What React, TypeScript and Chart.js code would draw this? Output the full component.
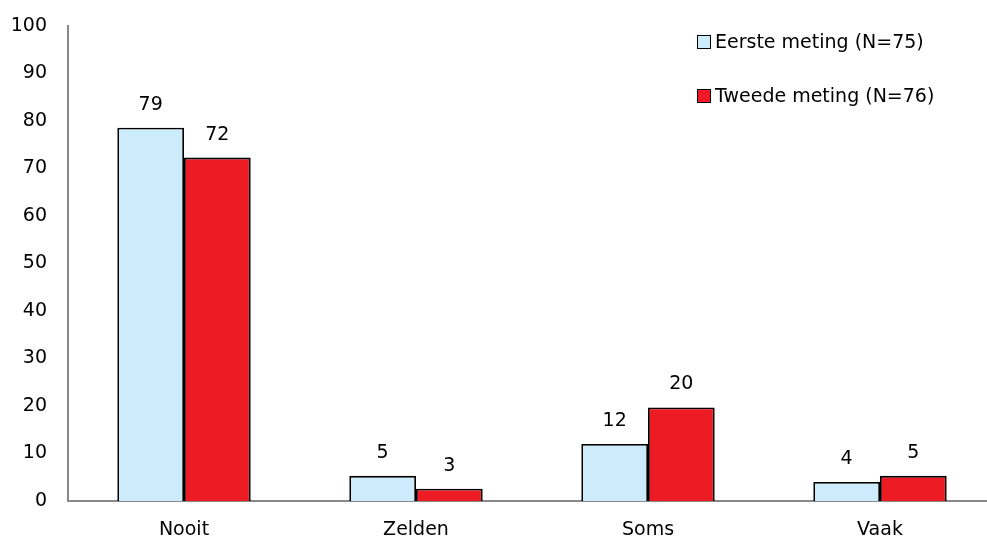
import React, { useEffect, useRef } from "react";
import { Chart, registerables } from "chart.js";

Chart.register(...registerables);

const categories = ["Nooit", "Zelden", "Soms", "Vaak"];
const seriesNames = ["Eerste meting (N=75)", "Tweede meting (N=76)"];
const eersteMeting = [78.6, 5.3, 12.0, 4.0];
const tweedeMeting = [72.3, 2.6, 19.7, 5.3];
const seriesColors = ["#CCEBFB", "#ED1C24"];
const yTicks = [0, 10, 20, 30, 40, 50, 60, 70, 80, 90, 100];

const FONT = "'DejaVu Sans', sans-serif";
const FS = 19;

const valueLabels = {
  id: "valueLabels",
  afterDatasetsDraw(chart: any) {
    const ctx = chart.ctx;
    ctx.save();
    ctx.font = `${FS}px ${FONT}`;
    ctx.fillStyle = "#000";
    ctx.textAlign = "center";
    ctx.textBaseline = "middle";
    chart.data.datasets.forEach((ds: any, i: number) => {
      const meta = chart.getDatasetMeta(i);
      meta.data.forEach((bar: any, j: number) => {
        ctx.fillText(String(Math.round(ds.data[j])), bar.x, bar.y - 23);
      });
    });
    ctx.restore();
  },
};

const customLegend = {
  id: "customLegend",
  afterDraw(chart: any) {
    const ctx = chart.ctx;
    ctx.save();
    ctx.font = `${FS}px ${FONT}`;
    ctx.textAlign = "left";
    ctx.textBaseline = "middle";
    chart.data.datasets.forEach((ds: any, i: number) => {
      const y = 42 + i * 54;
      const x = 697;
      ctx.fillStyle = ds.backgroundColor;
      ctx.fillRect(x, y - 7, 14, 14);
      ctx.strokeStyle = "#000";
      ctx.lineWidth = 1;
      ctx.strokeRect(x + 0.5, y - 6.5, 13, 13);
      ctx.fillStyle = "#000";
      ctx.fillText(ds.label, x + 18, y + 1);
    });
    ctx.restore();
  },
};

export default function App() {
  const ref = useRef<HTMLCanvasElement>(null);
  useEffect(() => {
    if (!ref.current) return;
    const mk = (i: number, data: number[]) => ({
      label: seriesNames[i],
      data,
      backgroundColor: seriesColors[i],
      borderColor: "#000",
      borderWidth: 1.8,
      categoryPercentage: 0.575,
      barPercentage: 1,
    });
    const chart = new Chart(ref.current, {
      type: "bar",
      data: {
        labels: categories,
        datasets: [mk(0, eersteMeting), mk(1, tweedeMeting)],
      },
      options: {
        responsive: false,
        animation: false,
        layout: { padding: { top: 26, right: 4, left: 0, bottom: 0 } },
        plugins: { legend: { display: false }, tooltip: { enabled: false } },
        scales: {
          x: {
            grid: { display: false, drawTicks: false },
            border: { display: true, color: "#888", width: 2 },
            ticks: { color: "#000", font: { family: FONT, size: FS }, padding: 18 },
            afterFit: (s: any) => {
              s.height = 39;
              s.paddingLeft = 0;
              s.paddingRight = 0;
            },
          },
          y: {
            min: 0,
            max: 100,
            afterBuildTicks: (s: any) => {
              s.ticks = yTicks.map((v) => ({ value: v }));
            },
            grid: { display: false, drawTicks: false },
            border: { display: true, color: "#888", width: 2 },
            ticks: { color: "#000", font: { family: FONT, size: FS }, padding: 21 },
            afterFit: (s: any) => {
              s.width = 68;
              s.paddingTop = 0;
              s.paddingBottom = 0;
            },
          },
        },
      },
      plugins: [valueLabels, customLegend],
    });
    return () => chart.destroy();
  }, []);
  return (
    <div style={{ position: "fixed", left: 0, top: 0, width: 987, height: 540, overflow: "hidden", background: "#fff" }}>
      <canvas ref={ref} width={1000} height={540} style={{ display: "block", width: 1000, height: 540 }} />
    </div>
  );
}
